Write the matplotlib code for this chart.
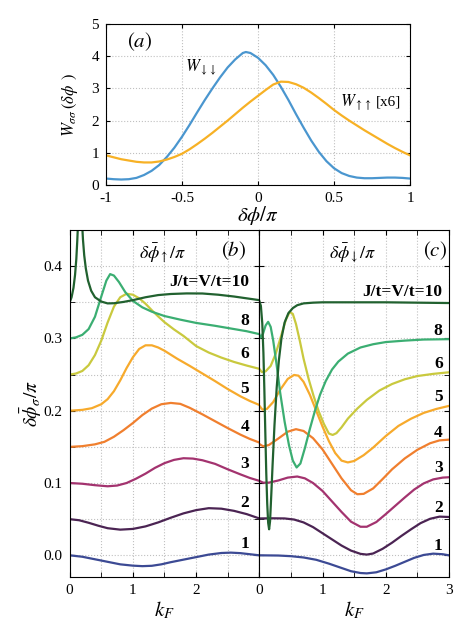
import matplotlib
matplotlib.use("Agg")
import matplotlib.pyplot as plt
from matplotlib.ticker import MultipleLocator, NullFormatter

plt.rcParams['font.family'] = ['Liberation Serif', 'DejaVu Serif']
plt.rcParams['mathtext.fontset'] = 'stix'

# panel (a)
phi_dn = [-1.0, -0.95, -0.9, -0.85, -0.8, -0.75, -0.7, -0.65, -0.6, -0.55, -0.5, -0.45, -0.4,
          -0.35, -0.3, -0.25, -0.2, -0.15, -0.1, -0.08, -0.05, 0.0, 0.05, 0.1, 0.15, 0.2, 0.25,
          0.3, 0.35, 0.4, 0.45, 0.5, 0.55, 0.6, 0.65, 0.7, 0.75, 0.8, 0.85, 0.9, 0.95, 1.0]
w_dn = [0.20, 0.18, 0.17, 0.18, 0.22, 0.31, 0.44, 0.62, 0.87, 1.16, 1.50, 1.87, 2.26,
        2.64, 3.00, 3.34, 3.65, 3.90, 4.10, 4.13, 4.10, 3.95, 3.72, 3.42, 3.05, 2.64, 2.20,
        1.78, 1.38, 1.03, 0.74, 0.52, 0.37, 0.28, 0.23, 0.21, 0.21, 0.22, 0.23, 0.23, 0.22, 0.20]
phi_up = [-1.0, -0.95, -0.9, -0.85, -0.8, -0.75, -0.7, -0.65, -0.6, -0.55, -0.5, -0.45, -0.4,
          -0.35, -0.3, -0.25, -0.2, -0.15, -0.1, -0.05, 0.0, 0.05, 0.1, 0.15, 0.2, 0.25,
          0.3, 0.35, 0.4, 0.45, 0.5, 0.55, 0.6, 0.65, 0.7, 0.75, 0.8, 0.85, 0.9, 0.95, 1.0]
w_up = [0.92, 0.86, 0.80, 0.76, 0.72, 0.70, 0.70, 0.73, 0.79, 0.87, 0.97, 1.11, 1.27,
        1.44, 1.62, 1.81, 2.00, 2.20, 2.40, 2.59, 2.77, 2.95, 3.12, 3.21, 3.20, 3.13,
        3.02, 2.87, 2.70, 2.52, 2.33, 2.16, 2.00, 1.85, 1.70, 1.56, 1.42, 1.28, 1.15, 1.03, 0.92]

# panel (b): delta phi up, each curve offset by its J/t
b_curves = {
    '1': ([0, 0.2, 0.4, 0.6, 0.8, 1.0, 1.15, 1.3, 1.45, 1.6, 1.8, 2.0, 2.2, 2.4, 2.55, 2.7, 2.85, 3.0],
          [0, -0.002, -0.0055, -0.009, -0.0125, -0.0143, -0.015, -0.0145, -0.0125, -0.0095, -0.006,
           -0.0025, 0.001, 0.0032, 0.0037, 0.003, 0.0015, 0.0]),
    '2': ([0, 0.15, 0.3, 0.45, 0.6, 0.8, 1.0, 1.2, 1.4, 1.6, 1.8, 2.0, 2.2, 2.4, 2.6, 2.8, 3.0],
          [0.05, 0.0485, 0.045, 0.041, 0.0375, 0.0355, 0.0365, 0.040, 0.0455, 0.052, 0.058, 0.0625,
           0.0652, 0.0645, 0.0615, 0.057, 0.051]),
    '3': ([0, 0.2, 0.4, 0.6, 0.75, 0.9, 1.05, 1.2, 1.35, 1.5, 1.65, 1.8, 1.95, 2.1, 2.3, 2.5, 2.7, 2.85, 3.0],
          [0.1, 0.099, 0.097, 0.0955, 0.0965, 0.1, 0.106, 0.113, 0.121, 0.1275, 0.132, 0.1343, 0.1338,
           0.1315, 0.1265, 0.119, 0.112, 0.107, 0.103]),
    '4': ([0, 0.2, 0.4, 0.55, 0.7, 0.85, 1.0, 1.15, 1.3, 1.45, 1.6, 1.75, 1.9, 2.1, 2.3, 2.5, 2.7, 2.85, 3.0],
          [0.15, 0.151, 0.1535, 0.157, 0.164, 0.173, 0.183, 0.194, 0.203, 0.209, 0.2108, 0.2095, 0.204,
           0.195, 0.1855, 0.176, 0.167, 0.161, 0.156]),
    '5': ([0, 0.2, 0.35, 0.5, 0.6, 0.7, 0.8, 0.9, 1.0, 1.1, 1.2, 1.3, 1.4, 1.5, 1.7, 1.9, 2.1, 2.3,
           2.5, 2.7, 2.85, 3.0],
          [0.2, 0.2012, 0.2035, 0.209, 0.216, 0.227, 0.242, 0.259, 0.274, 0.2855, 0.2905, 0.2905, 0.2875,
           0.283, 0.272, 0.262, 0.2515, 0.241, 0.23, 0.22, 0.2135, 0.208]),
    '6': ([0, 0.1, 0.2, 0.3, 0.4, 0.5, 0.6, 0.7, 0.8, 0.9, 1.0, 1.1, 1.2, 1.3, 1.4, 1.5, 1.65, 1.8,
           2.0, 2.2, 2.4, 2.6, 2.8, 3.0],
          [0.25, 0.2515, 0.255, 0.263, 0.277, 0.297, 0.322, 0.344, 0.357, 0.3618, 0.3605, 0.3555, 0.348,
           0.339, 0.3305, 0.3225, 0.3125, 0.3035, 0.2895, 0.2805, 0.2735, 0.2675, 0.2625, 0.258]),
    '8': ([0, 0.1, 0.2, 0.3, 0.4, 0.5, 0.58, 0.64, 0.7, 0.78, 0.88, 1.0, 1.15, 1.3, 1.5, 1.75, 2.0,
           2.3, 2.6, 2.8, 3.0],
          [0.3, 0.3015, 0.305, 0.313, 0.33, 0.358, 0.38, 0.389, 0.387, 0.378, 0.364, 0.352, 0.343, 0.337,
           0.331, 0.326, 0.3215, 0.3175, 0.313, 0.31, 0.306]),
    '10': ([0, 0.03, 0.06, 0.085, 0.105, 0.12, 0.135, 0.15, 0.165, 0.18, 0.195, 0.21, 0.23, 0.255,
            0.29, 0.34, 0.4, 0.5, 0.6, 0.7, 0.85, 1.0, 1.2, 1.4, 1.6, 1.85, 2.1, 2.35, 2.6, 2.8, 3.0],
           [0.35, 0.357, 0.37, 0.388, 0.41, 0.435, 0.465, 0.495, 0.505, 0.49, 0.462, 0.437, 0.415, 0.397,
            0.38, 0.366, 0.357, 0.351, 0.3485, 0.3487, 0.3505, 0.353, 0.357, 0.36, 0.3615, 0.3623,
            0.3622, 0.3605, 0.358, 0.3555, 0.353]),
}

# panel (c): delta phi down
c_curves = {
    '1': ([0, 0.3, 0.5, 0.7, 0.9, 1.1, 1.3, 1.45, 1.6, 1.7, 1.85, 2.0, 2.15, 2.3, 2.45, 2.6, 2.75, 2.9, 3.0],
          [0, -0.0003, -0.0012, -0.003, -0.0062, -0.0115, -0.0175, -0.022, -0.0245, -0.025, -0.0235,
           -0.0195, -0.0145, -0.009, -0.0035, 0.0005, 0.0023, 0.0015, 0.0]),
    '2': ([0, 0.2, 0.4, 0.55, 0.7, 0.85, 1.0, 1.15, 1.3, 1.45, 1.6, 1.7, 1.8, 1.95, 2.1, 2.25, 2.4,
           2.55, 2.7, 2.85, 3.0],
          [0.051, 0.0512, 0.051, 0.0495, 0.0455, 0.039, 0.0305, 0.022, 0.0135, 0.0065, 0.002, 0.001,
           0.0025, 0.009, 0.0175, 0.027, 0.036, 0.0445, 0.0505, 0.0535, 0.053]),
    '3': ([0, 0.06, 0.15, 0.3, 0.45, 0.6, 0.72, 0.85, 1.0, 1.15, 1.3, 1.45, 1.6, 1.7, 1.85, 2.0, 2.15,
           2.3, 2.45, 2.6, 2.75, 2.9, 3.0],
          [0.103, 0.1005, 0.1005, 0.1035, 0.1075, 0.109, 0.1065, 0.1, 0.089, 0.0745, 0.06, 0.0465,
           0.0395, 0.0395, 0.046, 0.057, 0.0685, 0.08, 0.091, 0.0995, 0.105, 0.1075, 0.108]),
    '4': ([0, 0.06, 0.15, 0.3, 0.45, 0.58, 0.7, 0.85, 1.0, 1.15, 1.3, 1.45, 1.55, 1.65, 1.8, 1.95,
           2.1, 2.3, 2.5, 2.7, 2.85, 3.0],
          [0.154, 0.1508, 0.1525, 0.1615, 0.171, 0.1745, 0.172, 0.162, 0.1465, 0.1265, 0.1065, 0.09,
           0.0845, 0.085, 0.0925, 0.1055, 0.119, 0.134, 0.146, 0.155, 0.159, 0.16]),
    '5': ([0, 0.05, 0.12, 0.22, 0.33, 0.45, 0.55, 0.62, 0.7, 0.8, 0.9, 1.0, 1.1, 1.2, 1.3, 1.4, 1.5,
           1.65, 1.8, 2.0, 2.2, 2.4, 2.6, 2.8, 3.0],
          [0.207, 0.2015, 0.2025, 0.212, 0.229, 0.244, 0.2495, 0.2485, 0.24, 0.222, 0.2, 0.178, 0.158,
           0.1415, 0.131, 0.1285, 0.1305, 0.1385, 0.149, 0.165, 0.179, 0.189, 0.197, 0.2025, 0.2067]),
    '6': ([0, 0.04, 0.1, 0.18, 0.26, 0.34, 0.42, 0.48, 0.53, 0.58, 0.64, 0.7, 0.78, 0.86, 0.94, 1.02,
           1.1, 1.16, 1.22, 1.3, 1.4, 1.55, 1.7, 1.9, 2.1, 2.3, 2.5, 2.75, 3.0],
          [0.258, 0.2535, 0.2545, 0.262, 0.279, 0.302, 0.326, 0.3365, 0.334, 0.32, 0.297, 0.272, 0.244,
           0.22, 0.199, 0.182, 0.1685, 0.1665, 0.169, 0.177, 0.189, 0.203, 0.215, 0.228, 0.237, 0.2435,
           0.248, 0.251, 0.2532]),
    '8': ([0, 0.02, 0.06, 0.1, 0.14, 0.18, 0.22, 0.27, 0.33, 0.4, 0.47, 0.53, 0.59, 0.65, 0.72, 0.8,
           0.88, 0.96, 1.05, 1.15, 1.25, 1.4, 1.6, 1.8, 2.0, 2.3, 2.6, 3.0],
          [0.306, 0.301, 0.307, 0.318, 0.323, 0.316, 0.297, 0.266, 0.225, 0.185, 0.152, 0.131, 0.1215,
           0.127, 0.148, 0.175, 0.2, 0.222, 0.241, 0.257, 0.268, 0.279, 0.2875, 0.292, 0.295, 0.297,
           0.2985, 0.299]),
    '10': ([0, 0.025, 0.047, 0.065, 0.08, 0.095, 0.11, 0.125, 0.14, 0.155, 0.17, 0.19, 0.21, 0.24,
            0.275, 0.31, 0.35, 0.4, 0.46, 0.53, 0.6, 0.7, 0.85, 1.0, 1.5, 2.0, 2.5, 3.0],
           [0.352, 0.345, 0.321, 0.28, 0.229, 0.17, 0.114, 0.072, 0.045, 0.036, 0.047, 0.085, 0.125,
            0.18, 0.232, 0.27, 0.3, 0.322, 0.335, 0.342, 0.346, 0.3485, 0.3495, 0.35, 0.35, 0.35,
            0.3495, 0.349]),
}

colors = {'1': '#3c4a94', '2': '#4b2453', '3': '#a3336f', '4': '#f07f2e',
          '5': '#f7aa2c', '6': '#c9c93e', '8': '#3bae72', '10': '#21612f'}

b_label_y = {'10': 0.378, '8': 0.324, '6': 0.279, '5': 0.230, '4': 0.178, '3': 0.126, '2': 0.073, '1': 0.016}
c_label_y = {'10': 0.364, '8': 0.310, '6': 0.265, '5': 0.219, '4': 0.169, '3': 0.121, '2': 0.066, '1': 0.0134}

fig = plt.figure(figsize=(4.75, 6.37), dpi=100)
ax_a = fig.add_axes([0.2232, 0.7096, 0.64, 0.2527])
ax_b = fig.add_axes([0.1467, 0.0942, 0.3992, 0.5447])
ax_c = fig.add_axes([0.5459, 0.0942, 0.3994, 0.5447])

grid_kw = dict(color='#c0c0c0', linestyle=':', linewidth=0.8)

# --- (a)
ax_a.plot(phi_dn, w_dn, color='#4a96cf', lw=1.6)
ax_a.plot(phi_up, w_up, color='#f7b125', lw=1.6)
ax_a.set_xlim(-1, 1)
ax_a.set_ylim(0, 5)
ax_a.yaxis.set_major_locator(MultipleLocator(1))
ax_a.set_xticks([-1, -0.5, 0, 0.5, 1])
ax_a.set_xticklabels(['-1', '-0.5', '0', '0.5', '1'])
ax_a.grid(True, **grid_kw)
ax_a.tick_params(direction='in', top=True, right=True, labelsize=11, length=3, pad=5)
ax_a.set_xlabel(r'$\delta\phi/\pi$', fontsize=15, labelpad=-1)
ax_a.set_ylabel(r'$W_{\sigma\sigma}\,(\delta\phi\ \,)$', fontsize=12, labelpad=8)
ax_a.text(-0.86, 4.45, r'$(a)$', fontsize=15, va='center')
ax_a.text(-0.48, 3.66, r'$W_{\downarrow\downarrow}$', fontsize=12, va='center')
ax_a.text(0.54, 2.58, r'$W_{\uparrow\uparrow}$', fontsize=12, va='center')
ax_a.text(0.775, 2.58, '[x6]', fontsize=11, va='center')

# --- (b), (c)
for ax, curves, ly, title, tag, tx in [
        (ax_b, b_curves, b_label_y, r'$\delta\bar{\phi}_{\uparrow}/\pi$', r'$(b)$', 2.84),
        (ax_c, c_curves, c_label_y, r'$\delta\bar{\phi}_{\downarrow}/\pi$', r'$(c)$', 2.9)]:
    for key, (k, v) in curves.items():
        ax.plot(k, v, color=colors[key], lw=1.6)
        txt = 'J/t=V/t=10' if key == '10' else key
        ax.text(tx, ly[key], txt, fontsize=12.5, fontweight='bold', ha='right', va='center')
    ax.set_xlim(0, 3)
    ax.set_ylim(-0.03, 0.45)
    ax.xaxis.set_major_locator(MultipleLocator(1))
    ax.xaxis.set_minor_locator(MultipleLocator(0.5))
    ax.yaxis.set_major_locator(MultipleLocator(0.1))
    ax.yaxis.set_minor_locator(MultipleLocator(0.05))
    ax.grid(True, which='both', **grid_kw)
    ax.tick_params(which='both', direction='in', top=True, right=True, length=3.5, labelsize=11, pad=5)
    ax.set_xlabel(r'$k_F$', fontsize=15, labelpad=2)
    ax.text(1.47, 0.418, title, fontsize=13, ha='center', va='center')
    ax.text(2.78 if ax is ax_c else 2.6, 0.422, tag, fontsize=15, ha='center', va='center')

ax_b.set_xticks([0, 1, 2, 3])
ax_b.set_xticklabels(['0', '1', '2', ''])
ax_b.set_yticks([0.0, 0.1, 0.2, 0.3, 0.4])
ax_b.set_yticklabels(['0.0', '0.1', '0.2', '0.3', '0.4'])
ax_b.set_ylabel(r'$\delta\bar{\phi}_{\sigma}/\pi$', fontsize=14, labelpad=0)
ax_c.yaxis.set_major_formatter(NullFormatter())

fig.savefig('out.png', dpi=100)
